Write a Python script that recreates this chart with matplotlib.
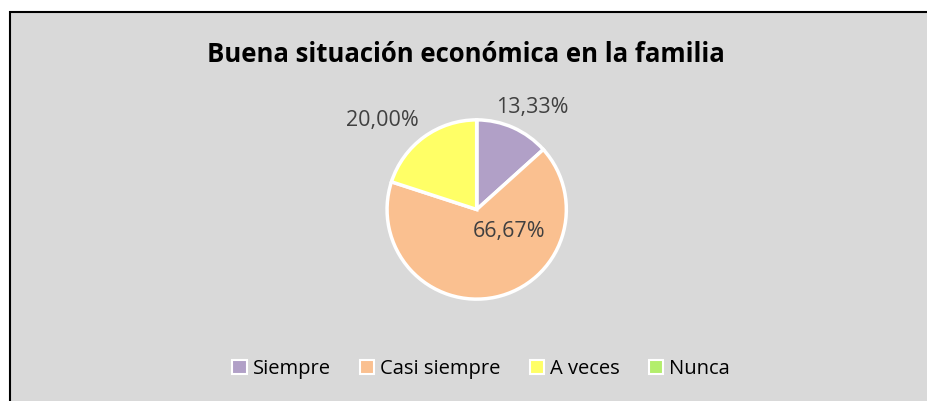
import matplotlib
matplotlib.use("Agg")
import matplotlib.pyplot as plt
from matplotlib.patches import Patch, Rectangle

categories = ["Siempre", "Casi siempre", "A veces", "Nunca"]
values = [13.33, 66.67, 20.00, 0.0]
colors = ["#b1a0c7", "#fac090", "#ffff66", "#b3ee6c"]
title = "Buena situación económica en la familia"

# label baseline anchors in pie-radius units (Excel "best fit" placement)
label_pos = [(0.61, 1.06), (0.355, -0.30), (-1.04, 0.92), None]

plt.rcParams["font.family"] = ["Open Sans", "DejaVu Sans"]

W, H = 927, 401
fig = plt.figure(figsize=(W / 100, H / 100), dpi=100)
fig.patch.set_facecolor("white")

# chart area with black frame, cut at the right/bottom edges
fig.patches.append(Rectangle((10 / W, -0.05), 1.0, 1 - 12 / H + 0.05,
                             transform=fig.transFigure, facecolor="#d9d9d9",
                             edgecolor="black", linewidth=1.5, zorder=-5))

cx, cy, r = 476.7, 209.5, 91
ax = fig.add_axes([(cx - r) / W, 1 - (cy + r) / H, 2 * r / W, 2 * r / H])

ax.pie(values, colors=colors, startangle=90, counterclock=False, radius=0.985,
       wedgeprops=dict(edgecolor="white", linewidth=2.5))
ax.set_xlim(-1, 1)
ax.set_ylim(-1, 1)
ax.axis("off")

for v, pos in zip(values, label_pos):
    if pos is None:
        continue
    txt = f"{v:.2f}%".replace(".", ",")
    ax.text(pos[0], pos[1], txt, ha="center", va="baseline", fontsize=15.5,
            color="#404040", clip_on=False)

fig.text(466 / W, 1 - 55 / H, title, ha="center", va="center",
         fontsize=18.5, fontweight="bold", color="black")

handles = [Patch(facecolor=c, edgecolor="white", linewidth=1.5) for c in colors]
fig.legend(handles, categories, loc="center", bbox_to_anchor=(481 / W, 1 - 369 / H),
           ncol=4, frameon=False, fontsize=14.5, handlelength=0.7, handleheight=0.7,
           handletextpad=0.3, columnspacing=1.45, labelcolor="black")

fig.savefig("out.png", dpi=100, facecolor=fig.get_facecolor())
